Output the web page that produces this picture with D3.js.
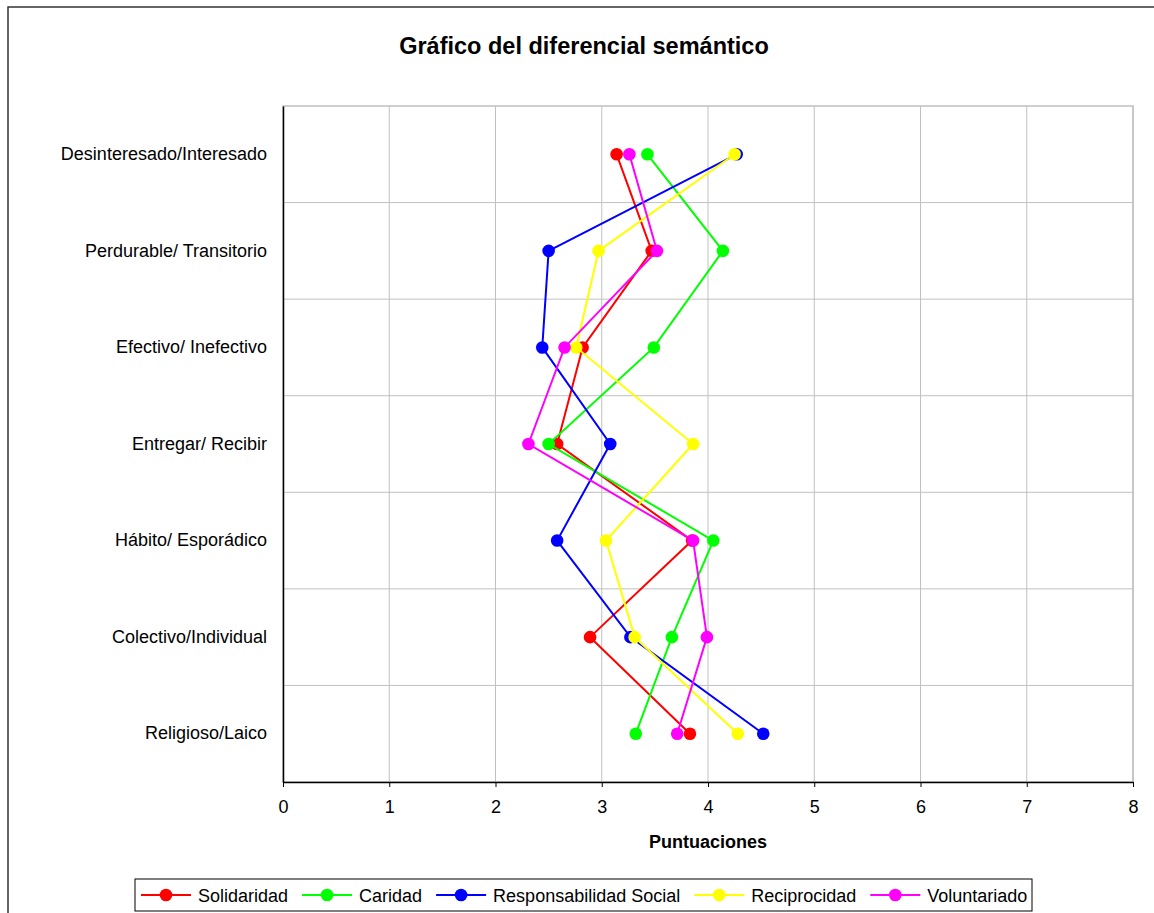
<!DOCTYPE html>
<html>
<head>
<meta charset="utf-8">
<script src="https://cdn.jsdelivr.net/npm/d3@7"></script>
<style>
  body { margin: 0; background: #fff; }
  svg { display: block; font-family: "Liberation Sans", Arial, sans-serif; }
</style>
</head>
<body>
<svg id="chart" width="1154" height="913"></svg>
<script>
// categories (top to bottom)
const categories = [
  "Desinteresado/Interesado",
  "Perdurable/ Transitorio",
  "Efectivo/ Inefectivo",
  "Entregar/ Recibir",
  "Hábito/ Esporádico",
  "Colectivo/Individual",
  "Religioso/Laico"
];

const xTicks = [0, 1, 2, 3, 4, 5, 6, 7, 8];

const seriesNames = ["Solidaridad", "Caridad", "Responsabilidad Social", "Reciprocidad", "Voluntariado"];
const seriesColors = ["#ff0000", "#00ff00", "#0000ff", "#ffff00", "#ff00ff"];

const solidaridad     = [3.14, 3.47, 2.82, 2.58, 3.85, 2.89, 3.83];
const caridad         = [3.43, 4.14, 3.49, 2.50, 4.05, 3.66, 3.32];
const responsabilidad = [4.27, 2.50, 2.44, 3.08, 2.58, 3.27, 4.52];
const reciprocidad    = [4.25, 2.97, 2.76, 3.86, 3.04, 3.31, 4.28];
const voluntariado    = [3.26, 3.52, 2.65, 2.31, 3.86, 3.99, 3.71];

const seriesValues = [solidaridad, caridad, responsabilidad, reciprocidad, voluntariado];

const svg = d3.select("#chart");
const W = 1154, H = 913;
const margin = { top: 106, right: 21, bottom: 131, left: 283 };
const plotW = W - margin.left - margin.right;
const plotH = H - margin.top - margin.bottom;
const FONT = "'Liberation Sans', Arial, sans-serif";

// outer chart border (runs off the right and bottom edge)
svg.append("rect")
  .attr("x", 8).attr("y", 7)
  .attr("width", W + 10).attr("height", H + 10)
  .attr("fill", "#fff")
  .attr("stroke", "#333").attr("stroke-width", 1.5);

svg.append("text")
  .attr("x", 584).attr("y", 54)
  .attr("text-anchor", "middle")
  .attr("font-size", 23.5).attr("font-weight", "bold")
  .text("Gráfico del diferencial semántico");

const x = d3.scaleLinear().domain([0, 8]).range([0, plotW]);
const y = d3.scaleBand().domain(categories).range([0, plotH]);

const g = svg.append("g").attr("transform", `translate(${margin.left},${margin.top})`);

// plot area frame
g.append("rect")
  .attr("width", plotW).attr("height", plotH)
  .attr("fill", "none").attr("stroke", "#c0c0c0").attr("stroke-width", 1.5);

// vertical grid
g.selectAll(".vgrid")
  .data(xTicks.slice(1))
  .enter().append("line")
  .attr("x1", d => x(d)).attr("x2", d => x(d))
  .attr("y1", 0).attr("y2", plotH)
  .attr("stroke", "#c0c0c0").attr("stroke-width", 1);

// horizontal grid at band boundaries
g.selectAll(".hgrid")
  .data(categories.slice(1))
  .enter().append("line")
  .attr("x1", 0).attr("x2", plotW)
  .attr("y1", d => y(d)).attr("y2", d => y(d))
  .attr("stroke", "#c0c0c0").attr("stroke-width", 1);

// X axis
const xAxis = g.append("g")
  .attr("transform", `translate(0,${plotH})`)
  .call(d3.axisBottom(x).tickValues(xTicks).tickFormat(d3.format("d")).tickSizeInner(5).tickSizeOuter(0).tickPadding(13));
xAxis.select(".domain").attr("stroke", "#000").attr("stroke-width", 1.5);
xAxis.selectAll(".tick line").attr("stroke", "#000");
xAxis.selectAll("text").attr("font-size", 18).attr("fill", "#000").attr("font-family", FONT);

// Y axis
const yAxis = g.append("g")
  .call(d3.axisLeft(y).tickSize(0).tickPadding(16));
yAxis.select(".domain").attr("stroke", "#000").attr("stroke-width", 1.5);
yAxis.selectAll("text").attr("font-size", 18).attr("fill", "#000").attr("font-family", FONT);

g.append("text")
  .attr("x", plotW / 2).attr("y", plotH + 66)
  .attr("text-anchor", "middle")
  .attr("font-size", 18).attr("font-weight", "bold")
  .text("Puntuaciones");

// series
const line = d3.line()
  .x(d => x(d.v))
  .y(d => y(d.c) + y.bandwidth() / 2);

seriesValues.forEach((vals, i) => {
  const pts = vals.map((v, j) => ({ v, c: categories[j] }));
  g.append("path")
    .datum(pts)
    .attr("d", line)
    .attr("fill", "none")
    .attr("stroke", seriesColors[i])
    .attr("stroke-width", 2);
  g.selectAll(".m" + i)
    .data(pts)
    .enter().append("circle")
    .attr("cx", d => x(d.v))
    .attr("cy", d => y(d.c) + y.bandwidth() / 2)
    .attr("r", 6.3)
    .attr("fill", seriesColors[i]);
});

// legend
const legend = svg.append("g");
legend.append("rect")
  .attr("x", 135).attr("y", 879)
  .attr("width", 897).attr("height", 32)
  .attr("fill", "#fff").attr("stroke", "#000").attr("stroke-width", 1);

let lx = 141;
const ly = 895;
seriesNames.forEach((name, i) => {
  legend.append("line")
    .attr("x1", lx).attr("x2", lx + 50)
    .attr("y1", ly).attr("y2", ly)
    .attr("stroke", seriesColors[i]).attr("stroke-width", 2);
  legend.append("circle")
    .attr("cx", lx + 25).attr("cy", ly).attr("r", 6.3)
    .attr("fill", seriesColors[i]);
  const t = legend.append("text")
    .attr("x", lx + 57).attr("y", ly + 6.5)
    .attr("font-size", 18)
    .text(name);
  lx += 57 + t.node().getComputedTextLength() + 14;
});
</script>
</body>
</html>
